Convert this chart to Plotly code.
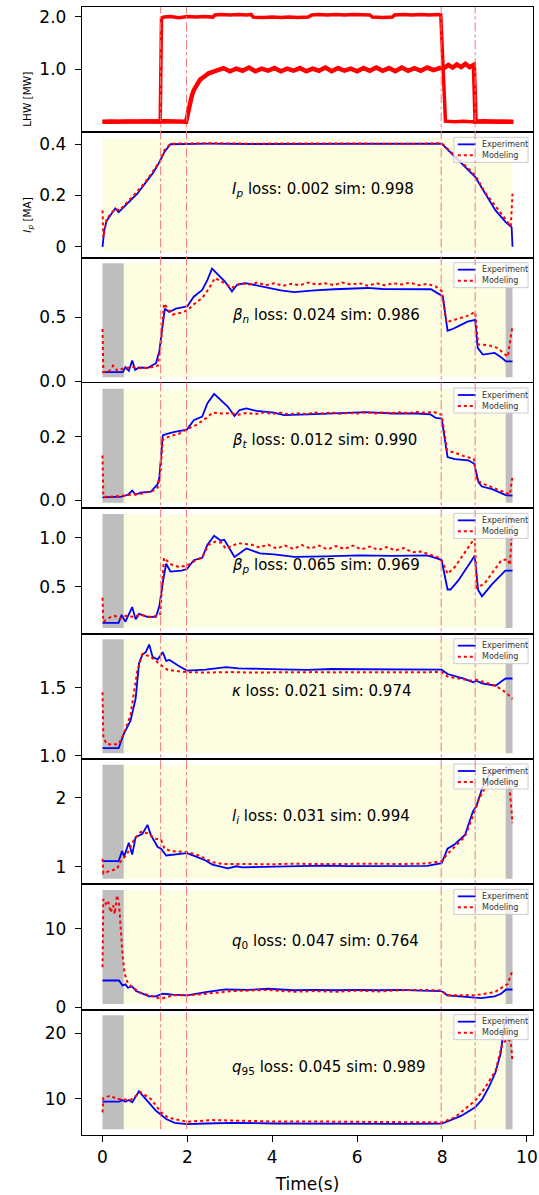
import plotly.graph_objects as go
from plotly.subplots import make_subplots

# ---------------- data ----------------
# LHW power [MW], two sources
lhw1_t = [0.0, 0.2, 0.4, 0.6, 0.8, 1.0, 1.2, 1.36, 1.39, 1.45,
          1.6, 1.8, 2.0, 2.2, 2.4, 2.6, 2.65, 2.8, 3.0, 3.2,
          3.4, 3.5, 3.55, 3.8, 4.0, 4.2, 4.4, 4.6, 4.85, 4.93,
          5.1, 5.3, 5.5, 5.7, 5.9, 6.1, 6.3, 6.36, 6.6, 6.83,
          6.88, 7.1, 7.3, 7.5, 7.7, 7.9, 7.97, 8.08, 8.3, 8.5,
          8.7, 8.9, 9.1, 9.3, 9.5, 9.68]
lhw1 = [0.0, 0.01, 0.0, 0.01, 0.0, 0.01, 0.0, 0.0, 1.97, 1.99,
        2.0, 1.98, 2.0, 1.99, 2.0, 1.99, 2.03, 2.04, 2.03, 2.04,
        2.03, 2.04, 1.99, 1.98, 1.99, 1.98, 1.99, 1.98, 1.99, 2.03,
        2.04, 2.03, 2.04, 2.03, 2.04, 2.03, 2.03, 1.99, 1.98, 1.99,
        2.03, 2.04, 2.03, 2.04, 2.03, 2.04, 2.03, 0.01, 0.0, 0.01,
        0.0, 0.01, 0.0, 0.01, 0.0, 0.0]

lhw2_t = [0.0, 0.5, 1.0, 1.5, 1.97, 2.0, 2.05, 2.1, 2.15, 2.2,
          2.3, 2.4, 2.5, 2.6,
          2.7, 2.85, 3.0, 3.15, 3.3, 3.45, 3.6, 3.75, 3.9, 4.05,
          4.2, 4.35, 4.5, 4.65, 4.8, 4.95, 5.1, 5.25, 5.4, 5.55,
          5.7, 5.85, 6.0, 6.15, 6.3, 6.45, 6.6, 6.75, 6.9, 7.05,
          7.2, 7.35, 7.5, 7.65, 7.8, 7.95,
          8.05, 8.15, 8.25, 8.35, 8.45, 8.55, 8.65, 8.75,
          8.79, 9.0, 9.3, 9.68]
lhw2 = [0.0, 0.01, 0.0, 0.01, 0.0, 0.12, 0.3, 0.48, 0.6, 0.68,
        0.8, 0.86, 0.92, 0.95,
        0.97, 1.02, 0.96, 1.01, 0.97, 1.03, 0.96, 1.01, 0.97, 1.02,
        0.96, 1.01, 0.97, 1.02, 0.96, 1.01, 0.97, 1.03, 0.96, 1.02,
        0.97, 1.01, 0.96, 1.02, 0.97, 1.03, 0.97, 1.02, 0.96, 1.03,
        0.97, 1.02, 0.97, 1.03, 0.98, 1.02,
        1.02, 1.08, 1.03, 1.09, 1.04, 1.1, 1.04, 1.08,
        0.0, 0.01, 0.0, 0.0]

# Ip [MA]
ip_t_exp = [0, 0.04, 0.1, 0.18, 0.26, 0.3, 0.38, 0.6, 0.82, 1.06,
            1.2, 1.34, 1.38, 1.46, 1.6, 2.5, 3.5, 4.5, 5.5, 6.5,
            7.5, 7.99, 8.46, 8.78, 9.02, 9.26, 9.5, 9.64, 9.66]
ip_exp = [0.0, 0.063, 0.102, 0.122, 0.142, 0.15, 0.135, 0.17, 0.207, 0.26,
          0.29, 0.33, 0.345, 0.37, 0.40, 0.402, 0.401, 0.401, 0.402, 0.402,
          0.401, 0.402, 0.325, 0.273, 0.207, 0.142, 0.096, 0.076, 0.0]
ip_t_mod = [0, 0.02, 0.1, 0.2, 0.3, 0.4, 0.6, 0.8, 1.0, 1.2,
            1.36, 1.45, 1.6, 2.5, 3.5, 4.5, 5.5, 6.5, 7.5, 7.99,
            8.4, 8.78, 9.0, 9.3, 9.5, 9.62, 9.66]
ip_mod = [0.142, 0.037, 0.11, 0.13, 0.148, 0.142, 0.175, 0.212, 0.25, 0.295,
          0.335, 0.375, 0.402, 0.404, 0.402, 0.403, 0.402, 0.403, 0.402, 0.404,
          0.34, 0.28, 0.215, 0.15, 0.105, 0.08, 0.207]

# beta_n
bn_t_exp = [0, 0.48, 0.54, 0.62, 0.7, 0.77, 0.86, 1.07, 1.26, 1.34,
            1.4, 1.47, 1.57, 1.73, 2.0, 2.15, 2.35, 2.47, 2.58, 2.74,
            2.88, 3.05, 3.17, 3.37, 3.56, 3.9, 4.2, 4.51, 5.0, 5.46,
            6.0, 6.24, 6.6, 7.03, 7.4, 7.74, 7.94, 8.02, 8.13, 8.25,
            8.41, 8.6, 8.78, 8.84, 8.96, 9.24, 9.39, 9.51, 9.66]
bn_exp = [0.07, 0.07, 0.109, 0.08, 0.16, 0.088, 0.106, 0.104, 0.14, 0.234,
          0.394, 0.566, 0.54, 0.566, 0.585, 0.66, 0.713, 0.79, 0.88, 0.83,
          0.78, 0.70, 0.753, 0.766, 0.753, 0.73, 0.71, 0.695, 0.71, 0.718,
          0.722, 0.728, 0.72, 0.718, 0.722, 0.718, 0.678, 0.66, 0.394, 0.407,
          0.434, 0.465, 0.479, 0.26, 0.207, 0.22, 0.186, 0.154, 0.154]
bn_t_mod = [0, 0.02, 0.15, 0.25, 0.35, 0.5, 0.7, 0.9, 1.1, 1.3,
            1.38, 1.45, 1.55, 1.65, 1.85, 2.0, 2.15, 2.35, 2.5, 2.65,
            2.85, 3.05, 3.25, 3.45, 3.65, 3.85, 4.05, 4.25, 4.45, 4.65,
            4.85, 5.05, 5.25, 5.45, 5.65, 5.85, 6.05, 6.25, 6.45, 6.65,
            6.85, 7.05, 7.25, 7.45, 7.65, 7.85, 8.0, 8.1, 8.3, 8.6,
            8.78, 8.85, 9.1, 9.3, 9.55, 9.66]
bn_mod = [0.407, 0.07, 0.075, 0.12, 0.08, 0.1, 0.11, 0.1, 0.105, 0.12,
          0.3, 0.606, 0.56, 0.52, 0.535, 0.553, 0.6, 0.65, 0.72, 0.806,
          0.77, 0.73, 0.765, 0.755, 0.77, 0.75, 0.765, 0.745, 0.76, 0.75,
          0.77, 0.755, 0.765, 0.75, 0.77, 0.755, 0.765, 0.745, 0.765, 0.75,
          0.765, 0.755, 0.77, 0.75, 0.76, 0.74, 0.70, 0.46, 0.48, 0.51,
          0.54, 0.287, 0.28, 0.26, 0.19, 0.434]

# beta_t
bt_t_exp = [0, 0.45, 0.6, 0.7, 0.78, 0.9, 1.14, 1.3, 1.34, 1.42,
            1.54, 1.7, 1.99, 2.15, 2.35, 2.47, 2.63, 2.79, 2.95, 3.11,
            3.23, 3.39, 3.63, 4.04, 4.28, 4.84, 5.64, 6.2, 6.85, 7.41,
            7.73, 7.85, 7.99, 8.13, 8.3, 8.62, 8.76, 8.86, 8.94, 9.18,
            9.5, 9.66]
bt_exp = [0.0085, 0.011, 0.017, 0.03, 0.017, 0.024, 0.027, 0.051, 0.072, 0.205,
          0.21, 0.216, 0.223, 0.253, 0.264, 0.306, 0.336, 0.317, 0.296, 0.266,
          0.285, 0.29, 0.282, 0.277, 0.269, 0.271, 0.274, 0.278, 0.274, 0.274,
          0.271, 0.26, 0.258, 0.136, 0.13, 0.126, 0.115, 0.056, 0.043, 0.035,
          0.016, 0.014]
bt_t_mod = [0, 0.02, 0.3, 0.6, 0.9, 1.2, 1.3, 1.36, 1.42, 1.55,
            1.8, 2.0, 2.2, 2.45, 2.6, 2.8, 3.0, 3.2, 3.4, 3.6,
            3.8, 4.0, 4.2, 4.4, 4.6, 4.8, 5.0, 5.2, 5.4, 5.6,
            5.8, 6.0, 6.2, 6.4, 6.6, 6.8, 7.0, 7.2, 7.4, 7.6,
            7.8, 7.99, 8.12, 8.3, 8.5, 8.75, 8.82, 9.0, 9.2, 9.4,
            9.6, 9.66]
bt_mod = [0.141, 0.01, 0.012, 0.015, 0.02, 0.03, 0.04, 0.08, 0.191, 0.2,
          0.21, 0.225, 0.237, 0.26, 0.277, 0.274, 0.275, 0.27, 0.276, 0.272,
          0.277, 0.273, 0.276, 0.271, 0.275, 0.272, 0.277, 0.274, 0.277, 0.273,
          0.276, 0.274, 0.278, 0.274, 0.277, 0.275, 0.278, 0.275, 0.279, 0.276,
          0.279, 0.27, 0.157, 0.15, 0.14, 0.13, 0.062, 0.05, 0.04, 0.03,
          0.018, 0.078]

# beta_p
bp_t_exp = [0, 0.38, 0.45, 0.54, 0.7, 0.78, 0.86, 1.06, 1.26, 1.34,
            1.42, 1.5, 1.6, 1.86, 1.99, 2.15, 2.35, 2.47, 2.63, 2.79,
            2.87, 3.11, 3.39, 3.71, 4.04, 4.52, 5.24, 6.05, 6.85, 7.65,
            7.9, 7.99, 8.13, 8.2, 8.38, 8.77, 8.85, 8.94, 9.18, 9.42,
            9.49, 9.66]
bp_exp = [0.129, 0.129, 0.21, 0.14, 0.29, 0.164, 0.22, 0.19, 0.19, 0.3,
          0.54, 0.734, 0.654, 0.664, 0.68, 0.77, 0.794, 0.927, 1.02, 0.97,
          0.98, 0.804, 0.89, 0.84, 0.83, 0.804, 0.81, 0.82, 0.815, 0.82,
          0.787, 0.77, 0.47, 0.47, 0.56, 0.815, 0.465, 0.4, 0.525, 0.63,
          0.664, 0.664]
bp_t_mod = [0, 0.02, 0.2, 0.3, 0.4, 0.55, 0.7, 0.9, 1.1, 1.3,
            1.36, 1.45, 1.6, 1.8, 2.0, 2.2, 2.35, 2.5, 2.65, 2.8,
            2.9, 3.2, 3.5, 3.7, 3.9, 4.1, 4.3, 4.5, 4.7, 4.9,
            5.1, 5.3, 5.5, 5.7, 5.9, 6.1, 6.3, 6.5, 6.7, 6.9,
            7.1, 7.3, 7.5, 7.7, 7.9, 8.0, 8.13, 8.3, 8.55, 8.77,
            8.82, 9.0, 9.2, 9.4, 9.55, 9.6, 9.66]
bp_mod = [0.385, 0.14, 0.19, 0.2, 0.17, 0.2, 0.19, 0.21, 0.19, 0.2,
          0.22, 0.794, 0.73, 0.7, 0.717, 0.77, 0.8, 0.927, 0.96, 0.95,
          0.89, 0.944, 0.93, 0.9, 0.93, 0.89, 0.92, 0.885, 0.925, 0.89,
          0.92, 0.88, 0.915, 0.885, 0.92, 0.88, 0.91, 0.875, 0.905, 0.87,
          0.895, 0.85, 0.86, 0.83, 0.80, 0.76, 0.63, 0.7, 0.86, 0.997,
          0.49, 0.53, 0.65, 0.77, 0.78, 0.72, 1.19]

# kappa
ka_t_exp = [0, 0.38, 0.5, 0.66, 0.78, 0.86, 0.94, 1.02, 1.1, 1.18,
            1.3, 1.42, 1.5, 1.58, 1.78, 1.99, 2.43, 2.91, 3.2, 3.63,
            4.2, 4.84, 5.4, 6.05, 6.6, 7.25, 7.99, 8.13, 8.53, 8.73,
            8.81, 8.94, 9.26, 9.42, 9.5, 9.66]
ka_exp = [1.057, 1.057, 1.16, 1.26, 1.42, 1.68, 1.746, 1.764, 1.82, 1.73,
          1.71, 1.764, 1.70, 1.707, 1.665, 1.628, 1.635, 1.653, 1.645, 1.64,
          1.637, 1.633, 1.64, 1.638, 1.636, 1.638, 1.635, 1.603, 1.567, 1.542,
          1.554, 1.534, 1.517, 1.554, 1.57, 1.57]
ka_t_mod = [0, 0.02, 0.1, 0.38, 0.5, 0.66, 0.82, 0.94, 1.14, 1.34,
            1.54, 1.99, 2.5, 3.0, 3.5, 4.0, 4.5, 5.0, 5.5, 6.0,
            6.5, 7.0, 7.5, 7.99, 8.13, 8.69, 8.81, 9.26, 9.5, 9.66]
ka_mod = [1.468, 1.135, 1.086, 1.086, 1.16, 1.3, 1.628, 1.75, 1.73, 1.677,
          1.633, 1.616, 1.614, 1.617, 1.614, 1.616, 1.614, 1.617, 1.615, 1.616,
          1.614, 1.617, 1.616, 1.617, 1.584, 1.554, 1.56, 1.517, 1.468, 1.419]

# l_i
li_t_exp = [0, 0.38, 0.46, 0.51, 0.62, 0.7, 0.78, 0.94, 1.06, 1.14,
            1.3, 1.38, 1.5, 1.7, 1.99, 2.19, 2.43, 2.59, 2.83, 2.95,
            3.15, 3.3, 4.04, 4.6, 5.24, 5.8, 6.45, 7.0, 7.65, 7.99,
            8.13, 8.3, 8.54, 8.73, 8.81, 8.94, 9.1, 9.26, 9.4, 9.66]
li_exp = [1.084, 1.084, 1.23, 1.153, 1.35, 1.18, 1.43, 1.48, 1.61, 1.463,
          1.29, 1.266, 1.167, 1.18, 1.2, 1.153, 1.094, 1.034, 0.995, 0.98,
          1.01, 0.995, 1.005, 1.012, 1.02, 1.012, 1.01, 1.016, 1.015, 1.054,
          1.266, 1.33, 1.463, 1.81, 1.88, 2.13, 2.325, 2.384, 2.407, 2.40]
li_t_mod = [0, 0.02, 0.18, 0.34, 0.42, 0.58, 0.74, 0.9, 1.06, 1.22,
            1.38, 1.46, 1.62, 1.99, 2.27, 2.59, 2.83, 3.2, 3.6, 4.0,
            4.4, 4.8, 5.2, 5.6, 6.0, 6.4, 6.8, 7.2, 7.6, 7.99,
            8.13, 8.54, 8.73, 8.86, 9.02, 9.18, 9.42, 9.58, 9.66]
li_mod = [1.12, 0.906, 0.946, 0.97, 1.07, 1.19, 1.39, 1.51, 1.49, 1.414,
          1.39, 1.266, 1.23, 1.217, 1.167, 1.069, 1.044, 1.04, 1.045, 1.04,
          1.046, 1.042, 1.047, 1.042, 1.046, 1.043, 1.047, 1.044, 1.05, 1.084,
          1.19, 1.44, 1.744, 1.98, 2.15, 2.227, 2.28, 2.23, 1.635]

# q0
q0_t_exp = [0, 0.39, 0.47, 0.54, 0.6, 0.7, 0.79, 0.95, 1.1, 1.26,
            1.42, 1.65, 2.0, 2.43, 2.9, 3.44, 3.9, 4.5, 5.0, 5.5,
            6.0, 6.5, 7.0, 7.5, 7.98, 8.13, 8.45, 8.92, 9.24, 9.39,
            9.51, 9.66]
q0_exp = [3.4, 3.4, 2.77, 2.9, 2.47, 2.64, 2.04, 1.7, 1.36, 1.36,
          1.7, 1.6, 1.5, 1.9, 2.25, 2.2, 2.34, 2.15, 2.2, 2.15,
          2.2, 2.15, 2.2, 2.1, 2.04, 1.5, 1.36, 1.15, 1.36, 1.7,
          2.25, 2.25]
q0_t_mod = [0, 0.02, 0.08, 0.13, 0.19, 0.25, 0.29, 0.34, 0.39, 0.42,
            0.47, 0.52, 0.6, 0.72, 0.87, 1.1, 1.38, 1.65, 2.0, 2.43,
            3.05, 3.9, 4.5, 5.0, 5.5, 6.0, 6.5, 7.0, 7.43, 7.98,
            8.13, 8.76, 9.24, 9.55, 9.66]
q0_mod = [5.1, 13.8, 13.2, 13.6, 12.1, 13.0, 11.9, 14.3, 13.2, 10.6,
          6.8, 4.3, 3.0, 2.47, 1.9, 1.5, 1.06, 1.5, 1.5, 1.7,
          2.04, 2.2, 1.95, 2.05, 1.95, 2.1, 2.0, 2.15, 2.2, 2.13,
          1.5, 1.5, 1.9, 2.98, 4.7]

# q95
q95_t_exp = [0, 0.4, 0.46, 0.54, 0.62, 0.7, 0.86, 1.06, 1.26, 1.38,
             1.5, 1.7, 1.99, 2.43, 3.07, 4.04, 5.64, 7.25, 7.99, 8.13,
             8.46, 8.78, 8.94, 9.1, 9.26, 9.38, 9.46, 9.5, 9.66]
q95_exp = [9.54, 9.54, 9.8, 9.54, 9.8, 9.44, 11.13, 9.7, 8.15, 7.54,
           6.87, 6.3, 6.1, 6.2, 6.3, 6.2, 6.15, 6.15, 6.2, 6.5,
           7.4, 8.67, 9.85, 11.74, 14.05, 16.9, 21.0, 21.98, 21.9]
q95_t_mod = [0, 0.02, 0.18, 0.34, 0.66, 0.9, 1.14, 1.38, 1.54, 1.99,
             2.59, 3.2, 4.04, 5.0, 6.0, 7.0, 7.99, 8.3, 8.78, 9.02,
             9.26, 9.42, 9.54, 9.62, 9.66]
q95_mod = [7.9, 10.1, 10.46, 9.95, 9.8, 11.0, 9.95, 7.9, 7.1, 6.46,
           6.72, 6.6, 6.5, 6.5, 6.45, 6.45, 6.36, 7.13, 9.7, 11.74,
           14.3, 18.4, 19.2, 18.7, 15.6]

# phase markers [s], shot end [s], excluded windows [s]
phase_times = [1.37, 1.98, 7.98, 8.78]
shot_end = 9.66
gray_windows = [(0.0, 0.5), (9.5, 9.66)]

panel_labels = ["<i>I<sub>p</sub></i> loss: 0.002 sim: 0.998",
                "<i>β<sub>n</sub></i> loss: 0.024 sim: 0.986",
                "<i>β<sub>t</sub></i> loss: 0.012 sim: 0.990",
                "<i>β<sub>p</sub></i> loss: 0.065 sim: 0.969",
                "<i>κ</i> loss: 0.021 sim: 0.974",
                "<i>l<sub>i</sub></i> loss: 0.031 sim: 0.994",
                "<i>q</i><sub>0</sub> loss: 0.047 sim: 0.764",
                "<i>q</i><sub>95</sub> loss: 0.045 sim: 0.989"]
panel_ticks = [[0, 0.2, 0.4], [0.0, 0.5], [0.0, 0.2], [0.5, 1.0],
               [1.0, 1.5], [1, 2], [0, 10], [10, 20]]
panel_ticktext = [["0", "0.2", "0.4"], ["0.0", "0.5"], ["0.0", "0.2"],
                  ["0.5", "1.0"], ["1.0", "1.5"], ["1", "2"], ["0", "10"],
                  ["10", "20"]]
x_ticks = [0, 2, 4, 6, 8, 10]

series = [(ip_t_exp, ip_exp, ip_t_mod, ip_mod),
          (bn_t_exp, bn_exp, bn_t_mod, bn_mod),
          (bt_t_exp, bt_exp, bt_t_mod, bt_mod),
          (bp_t_exp, bp_exp, bp_t_mod, bp_mod),
          (ka_t_exp, ka_exp, ka_t_mod, ka_mod),
          (li_t_exp, li_exp, li_t_mod, li_mod),
          (q0_t_exp, q0_exp, q0_t_mod, q0_mod),
          (q95_t_exp, q95_exp, q95_t_mod, q95_mod)]

# ---------------- layout constants ----------------
FONT = "DejaVu Sans"
W, H = 539, 1195
ML, MR, MT, MB = 82, 1, 7, 60
PW, PH = W - ML - MR, H - MT - MB
NROW = 9
RH = PH / NROW
BLUE = "#0000ff"
RED = "#ff0000"
YELLOW = "rgb(253,253,226)"
GRAY = "rgb(190,190,190)"
VLINE = "rgb(240,120,120)"


def px2x(px):
    return (px - ML) / PW


def py2y(py):
    return 1 - (py - MT) / PH


fig = make_subplots(rows=NROW, cols=1, shared_xaxes=True, vertical_spacing=0)

xpad = 0.05 * shot_end
xrange = [-xpad, shot_end + xpad]

# ---- LHW panel ----
fig.add_trace(go.Scatter(x=lhw1_t, y=lhw1, mode="lines", name="LHW 1",
                         line=dict(color=RED, width=3.5), showlegend=False),
              row=1, col=1)
fig.add_trace(go.Scatter(x=lhw2_t, y=lhw2, mode="lines", name="LHW 2",
                         line=dict(color=RED, width=4.5), showlegend=False),
              row=1, col=1)
lmin = min(lhw1 + lhw2)
lmax = max(lhw1 + lhw2)
lsp = lmax - lmin
fig.update_yaxes(range=[lmin - 0.05 * lsp - 0.1, lmax + 0.05 * lsp + 0.04],
                 tickvals=[1.0, 2.0], ticktext=["1.0", "2.0"], row=1, col=1)

shapes = []
annotations = []

for i, (te, ve, tm, vm) in enumerate(series):
    row = i + 2
    ya = f"y{row}"
    dmin = min(ve + vm)
    dmax = max(ve + vm)
    sp = dmax - dmin
    ylo, yhi = dmin - 0.05 * sp, dmax + 0.05 * sp
    sp2 = yhi - ylo
    fig.update_yaxes(range=[ylo - 0.05 * sp2, yhi + 0.05 * sp2],
                     tickvals=panel_ticks[i], ticktext=panel_ticktext[i],
                     row=row, col=1)
    # background band
    shapes.append(dict(type="rect", xref=f"x{row}", yref=ya, x0=0, x1=shot_end,
                       y0=ylo, y1=yhi, fillcolor=YELLOW, line=dict(width=0),
                       layer="below"))
    if i >= 1:
        for g0, g1 in gray_windows:
            shapes.append(dict(type="rect", xref=f"x{row}", yref=ya, x0=g0, x1=g1,
                               y0=ylo, y1=yhi, fillcolor=GRAY,
                               line=dict(width=0), layer="below"))
    fig.add_trace(go.Scatter(x=te, y=ve, mode="lines", name="Experiment",
                             line=dict(color=BLUE, width=1.8), showlegend=False),
                  row=row, col=1)
    fig.add_trace(go.Scatter(x=tm, y=vm, mode="lines", name="Modeling",
                             line=dict(color=RED, width=2, dash="dot"),
                             showlegend=False),
                  row=row, col=1)
    annotations.append(dict(x=3.0, xref=f"x{row}", y=0.54, yref=f"{ya} domain",
                            text=panel_labels[i], showarrow=False,
                            xanchor="left", yanchor="middle",
                            font=dict(family=FONT, size=15, color="black")))
    # legend box (drawn)
    top = MT + (row - 1) * RH
    shapes.append(dict(type="rect", xref="paper", yref="paper",
                       x0=px2x(458), x1=px2x(533), y0=py2y(top + 5), y1=py2y(top + 30),
                       fillcolor="rgba(255,255,255,0.8)",
                       line=dict(color="rgb(204,204,204)", width=1), layer="above"))
    shapes.append(dict(type="line", xref="paper", yref="paper",
                       x0=px2x(462), x1=px2x(480), y0=py2y(top + 12), y1=py2y(top + 12),
                       line=dict(color=BLUE, width=1.8), layer="above"))
    shapes.append(dict(type="line", xref="paper", yref="paper",
                       x0=px2x(462), x1=px2x(480), y0=py2y(top + 23), y1=py2y(top + 23),
                       line=dict(color=RED, width=2, dash="dot"), layer="above"))
    annotations.append(dict(x=px2x(484), xref="paper", y=py2y(top + 12), yref="paper",
                            text="Experiment", showarrow=False, xanchor="left",
                            yanchor="middle",
                            font=dict(family=FONT, size=8, color="#333")))
    annotations.append(dict(x=px2x(484), xref="paper", y=py2y(top + 23), yref="paper",
                            text="Modeling", showarrow=False, xanchor="left",
                            yanchor="middle",
                            font=dict(family=FONT, size=8, color="#333")))

# vertical phase lines across all panels
bottom_frac = (0.05 / 1.1) / NROW
for t in phase_times:
    shapes.append(dict(type="line", xref="x", yref="paper", x0=t, x1=t,
                       y0=bottom_frac, y1=1,
                       line=dict(color=VLINE, width=1, dash="dashdot"),
                       layer="above"))

# y-axis titles
annotations.append(dict(x=px2x(18), xref="paper", y=py2y(MT + RH * 0.5), yref="paper",
                        text="LHW [MW]", textangle=-90, showarrow=False,
                        font=dict(family=FONT, size=10.5, color="black")))
annotations.append(dict(x=px2x(18), xref="paper", y=py2y(MT + RH * 1.5), yref="paper",
                        text="<i>I<sub>p</sub></i> [MA]", textangle=-90, showarrow=False,
                        font=dict(family=FONT, size=10.5, color="black")))

fig.update_xaxes(range=xrange, showline=True, mirror=True, linecolor="black",
                 linewidth=1.4, showgrid=False, zeroline=False, ticks="")
fig.update_xaxes(ticks="outside", ticklen=6, tickwidth=1.2, tickcolor="black",
                 tickvals=x_ticks, showticklabels=True, ticklabeloverflow="allow",
                 tickfont=dict(family=FONT, size=17, color="black"),
                 title=dict(text="Time(s)", font=dict(family=FONT, size=17, color="black"),
                            standoff=12),
                 row=NROW, col=1)
fig.update_yaxes(showline=True, mirror=True, linecolor="black", linewidth=1.4,
                 showgrid=False, zeroline=False, ticks="outside", ticklen=6,
                 tickwidth=1.2, tickcolor="black", ticklabelstandoff=5,
                 tickfont=dict(family=FONT, size=17, color="black"))

fig.update_layout(width=W, height=H, margin=dict(l=ML, r=MR, t=MT, b=MB),
                  plot_bgcolor="white", paper_bgcolor="white",
                  shapes=shapes, annotations=annotations, showlegend=False,
                  font=dict(family=FONT))

fig.write_html("out.html")
